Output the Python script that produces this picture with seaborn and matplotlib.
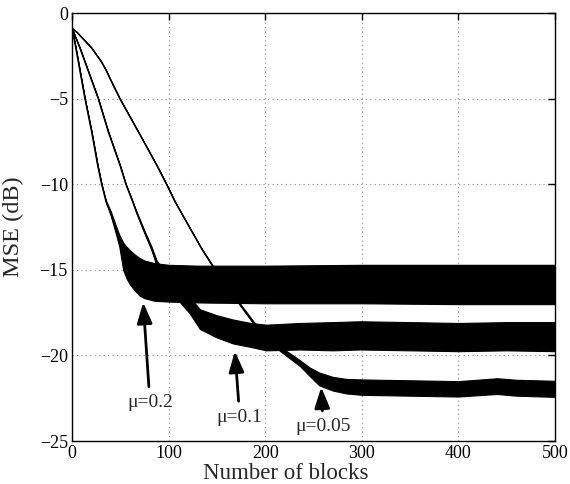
import matplotlib
matplotlib.use("Agg")
import matplotlib.pyplot as plt
import seaborn as sns
import pandas as pd

# ---------------- data ----------------
mu02_x = [0, 4, 13.4, 20.3, 26.5, 30.7, 35.2, 40, 45, 49, 53, 56.5, 60, 65, 70, 75, 85,
          100, 130, 200, 300, 400, 500]
mu02_upper = [-0.88, -2.05, -5.0, -6.92, -8.87, -10.0, -10.95, -11.55, -12.35, -12.95, -13.4,
              -13.65, -13.85, -14.1, -14.3, -14.45, -14.6, -14.7, -14.75, -14.75, -14.7,
              -14.7, -14.7]
mu02_lower = [-0.88, -2.05, -5.0, -6.92, -8.87, -10.0, -11.05, -11.8, -12.8, -13.65, -15.0,
              -15.5, -15.85, -16.2, -16.5, -16.65, -16.8, -16.85, -16.9, -16.95, -16.95,
              -17.0, -17.0]

mu01_x = [0, 8.3, 27.2, 37.5, 49.6, 55.8, 61.7, 66.9, 75, 82.4, 87.6, 100, 112, 122,
          132.4, 150, 166.8, 185, 201, 236, 270, 298, 350, 400, 450, 500]
mu01_upper = [-0.88, -2.05, -5.0, -6.92, -8.87, -10.0, -10.85, -11.6, -12.7, -13.65, -14.45,
              -15.4, -16.2, -16.6, -17.3, -17.65, -17.9, -18.1, -18.2, -18.1, -18.05,
              -18.0, -18.05, -18.1, -18.05, -18.05]
mu01_lower = [-0.88, -2.05, -5.0, -6.92, -8.87, -10.0, -10.85, -11.7, -12.85, -13.85, -14.75,
              -15.85, -16.9, -17.55, -18.45, -18.95, -19.3, -19.5, -19.7, -19.65, -19.7,
              -19.65, -19.7, -19.75, -19.7, -19.75]

mu005_x = [0, 5, 10, 15, 20, 25, 30, 35, 40, 49.6, 68.6, 87.6, 97.9, 106.5, 115, 122, 134,
           146, 160, 172, 187.5, 200, 215, 225, 236, 246, 256, 270, 284, 300, 350, 400,
           440, 460, 500]
mu005_upper = [-0.88, -1.1, -1.4, -1.7, -2.0, -2.4, -2.8, -3.3, -3.9, -5.0, -6.92, -8.87,
               -10.0, -11.0, -11.85, -12.55, -13.72, -14.77, -15.86, -16.82, -17.98, -18.8,
               -19.48, -19.85, -20.28, -20.7, -21.0, -21.25, -21.37, -21.4, -21.45, -21.5,
               -21.33, -21.42, -21.48]
mu005_lower = [-0.88, -1.1, -1.4, -1.7, -2.0, -2.4, -2.8, -3.3, -3.9, -5.0, -6.92, -8.87,
               -10.0, -11.0, -11.85, -12.55, -13.76, -14.83, -15.94, -16.92, -18.12, -19.0,
               -19.72, -20.15, -20.62, -21.2, -21.75, -22.05, -22.22, -22.3, -22.35, -22.4,
               -22.25, -22.35, -22.42]

labels = ["μ=0.2", "μ=0.1", "μ=0.05"]
arrow_tips = [(73.7, -16.9), (168.6, -19.75), (258.0, -21.85)]
label_pos = [(80.7, -22.75), (173.7, -23.6), (259.9, -24.17)]

x_ticks = [0, 100, 200, 300, 400, 500]
y_ticks = [-25, -20, -15, -10, -5, 0]

# ---------------- figure ----------------
sns.set_theme(style="white")
plt.rcParams["font.family"] = ["Liberation Serif", "DejaVu Serif"]

fig = plt.figure(figsize=(5.70, 4.84), dpi=100)
ax = fig.add_axes([0.1263, 0.0888, 0.8474, 0.8837])

curves = [(mu02_x, mu02_upper, mu02_lower),
          (mu01_x, mu01_upper, mu01_lower),
          (mu005_x, mu005_upper, mu005_lower)]

for xs, up, lo in curves:
    df = pd.DataFrame({"x": xs, "mid": [(a + b) / 2 for a, b in zip(up, lo)]})
    sns.lineplot(data=df, x="x", y="mid", ax=ax, color="black", lw=1.0, zorder=3)
    ax.fill_between(xs, lo, up, color="black", lw=0.8, edgecolor="black", zorder=3)

for lab, tip, pos in zip(labels, arrow_tips, label_pos):
    ax.annotate(lab, xy=tip, xytext=pos, ha="center", va="center", fontsize=14,
                arrowprops=dict(arrowstyle="-|>,head_length=0.9,head_width=0.33",
                                color="black", lw=2.0, shrinkA=3, shrinkB=0),
                zorder=5)

ax.set_xlim(0, 500)
ax.set_ylim(-25, 0)
ax.set_xticks(x_ticks)
ax.set_yticks(y_ticks)
ax.set_xlabel("Number of blocks", fontsize=16.5)
ax.set_ylabel("MSE (dB)", fontsize=17.5)
ax.xaxis.set_label_coords(0.443, -0.052)
ax.yaxis.set_label_coords(-0.1, 0.5)
ax.tick_params(axis="both", direction="in", length=5, width=1.0, top=True, right=True,
               labelsize=13, colors="black", pad=3)
ax.grid(True, color="#8a8a8a", linestyle=(0, (1, 3)), lw=0.8)
for s in ax.spines.values():
    s.set_color("black")
    s.set_linewidth(1.0)
    s.set_zorder(6)

fig.savefig("out.png", dpi=100, facecolor="white")
